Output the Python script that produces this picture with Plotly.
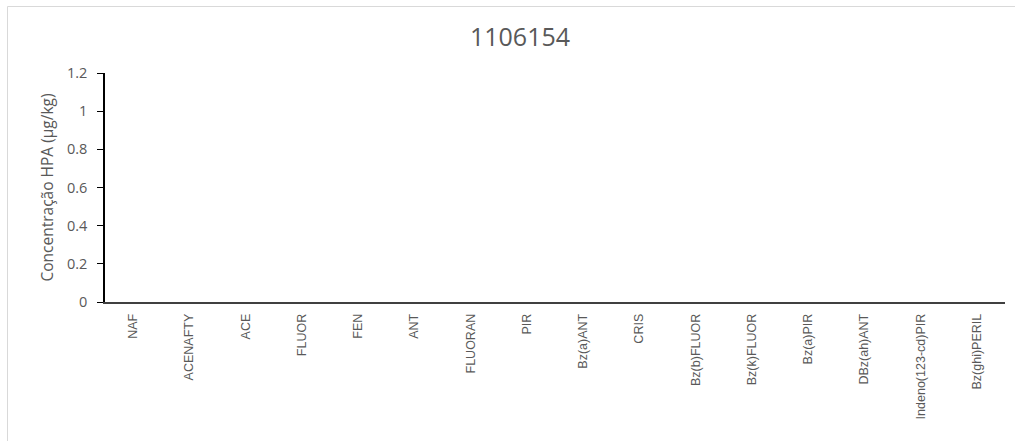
import plotly.graph_objects as go

# HPA compounds analysed for sample 1106154
compounds = [
    "NAF", "ACENAFTY", "ACE", "FLUOR", "FEN", "ANT", "FLUORAN", "PIR",
    "Bz(a)ANT", "CRIS", "Bz(b)FLUOR", "Bz(k)FLUOR", "Bz(a)PIR",
    "DBz(ah)ANT", "Indeno(123-cd)PIR", "Bz(ghi)PERIL",
]
# measured concentrations (µg/kg) – nothing detected
concentrations = [0, 0, 0, 0, 0, 0, 0, 0, 0, 0, 0, 0, 0, 0, 0, 0]

W, H = 1015, 441
L, R, T, B = 105, 10, 73, 139

fig = go.Figure(
    go.Bar(
        x=compounds,
        y=concentrations,
        marker=dict(color="#4472c4", line=dict(width=0)),
        width=0.6,
        hoverinfo="x+y",
    )
)

pw = W - L - R
ph = H - T - B

def px_x(x):
    return (x - L) / pw

def px_y(y):
    return (H - B - y) / ph

# light chart-area frame
fig.add_shape(
    type="rect", xref="paper", yref="paper",
    x0=px_x(7.5), x1=px_x(1030), y0=px_y(460), y1=px_y(6.5),
    line=dict(color="#d9d9d9", width=1), fillcolor="rgba(0,0,0,0)", layer="below",
)

fig.update_layout(
    width=W, height=H,
    margin=dict(l=L, r=R, t=T, b=B),
    paper_bgcolor="white", plot_bgcolor="white",
    showlegend=False,
    title=dict(
        text="1106154", x=(520 / W), xanchor="center", xref="container",
        y=1 - 37 / H, yanchor="middle", yref="container",
        font=dict(family="Open Sans", size=25, color="#595959"),
    ),
    font=dict(family="Open Sans", color="#595959"),
)

fig.update_xaxes(
    type="category",
    showline=True, linecolor="#404040", linewidth=1.5,
    showgrid=False, ticks="", tickangle=-90,
    ticklabelstandoff=5,
    tickfont=dict(family="Liberation Sans", size=12.5, color="#595959"),
    fixedrange=True,
)

fig.update_yaxes(
    range=[0, 1.2], dtick=0.2, tick0=0,
    showline=True, linecolor="#000000", linewidth=1.5,
    showgrid=False, zeroline=False,
    ticks="outside", ticklen=6, tickcolor="#000000", tickwidth=1.2,
    ticklabelstandoff=7,
    tickfont=dict(family="Open Sans", size=14.5, color="#595959"),
    title=dict(
        text="Concentração HPA (µg/kg)", standoff=10,
        font=dict(family="Open Sans", size=15.5, color="#595959"),
    ),
    fixedrange=True,
)

fig.write_html("out.html")
